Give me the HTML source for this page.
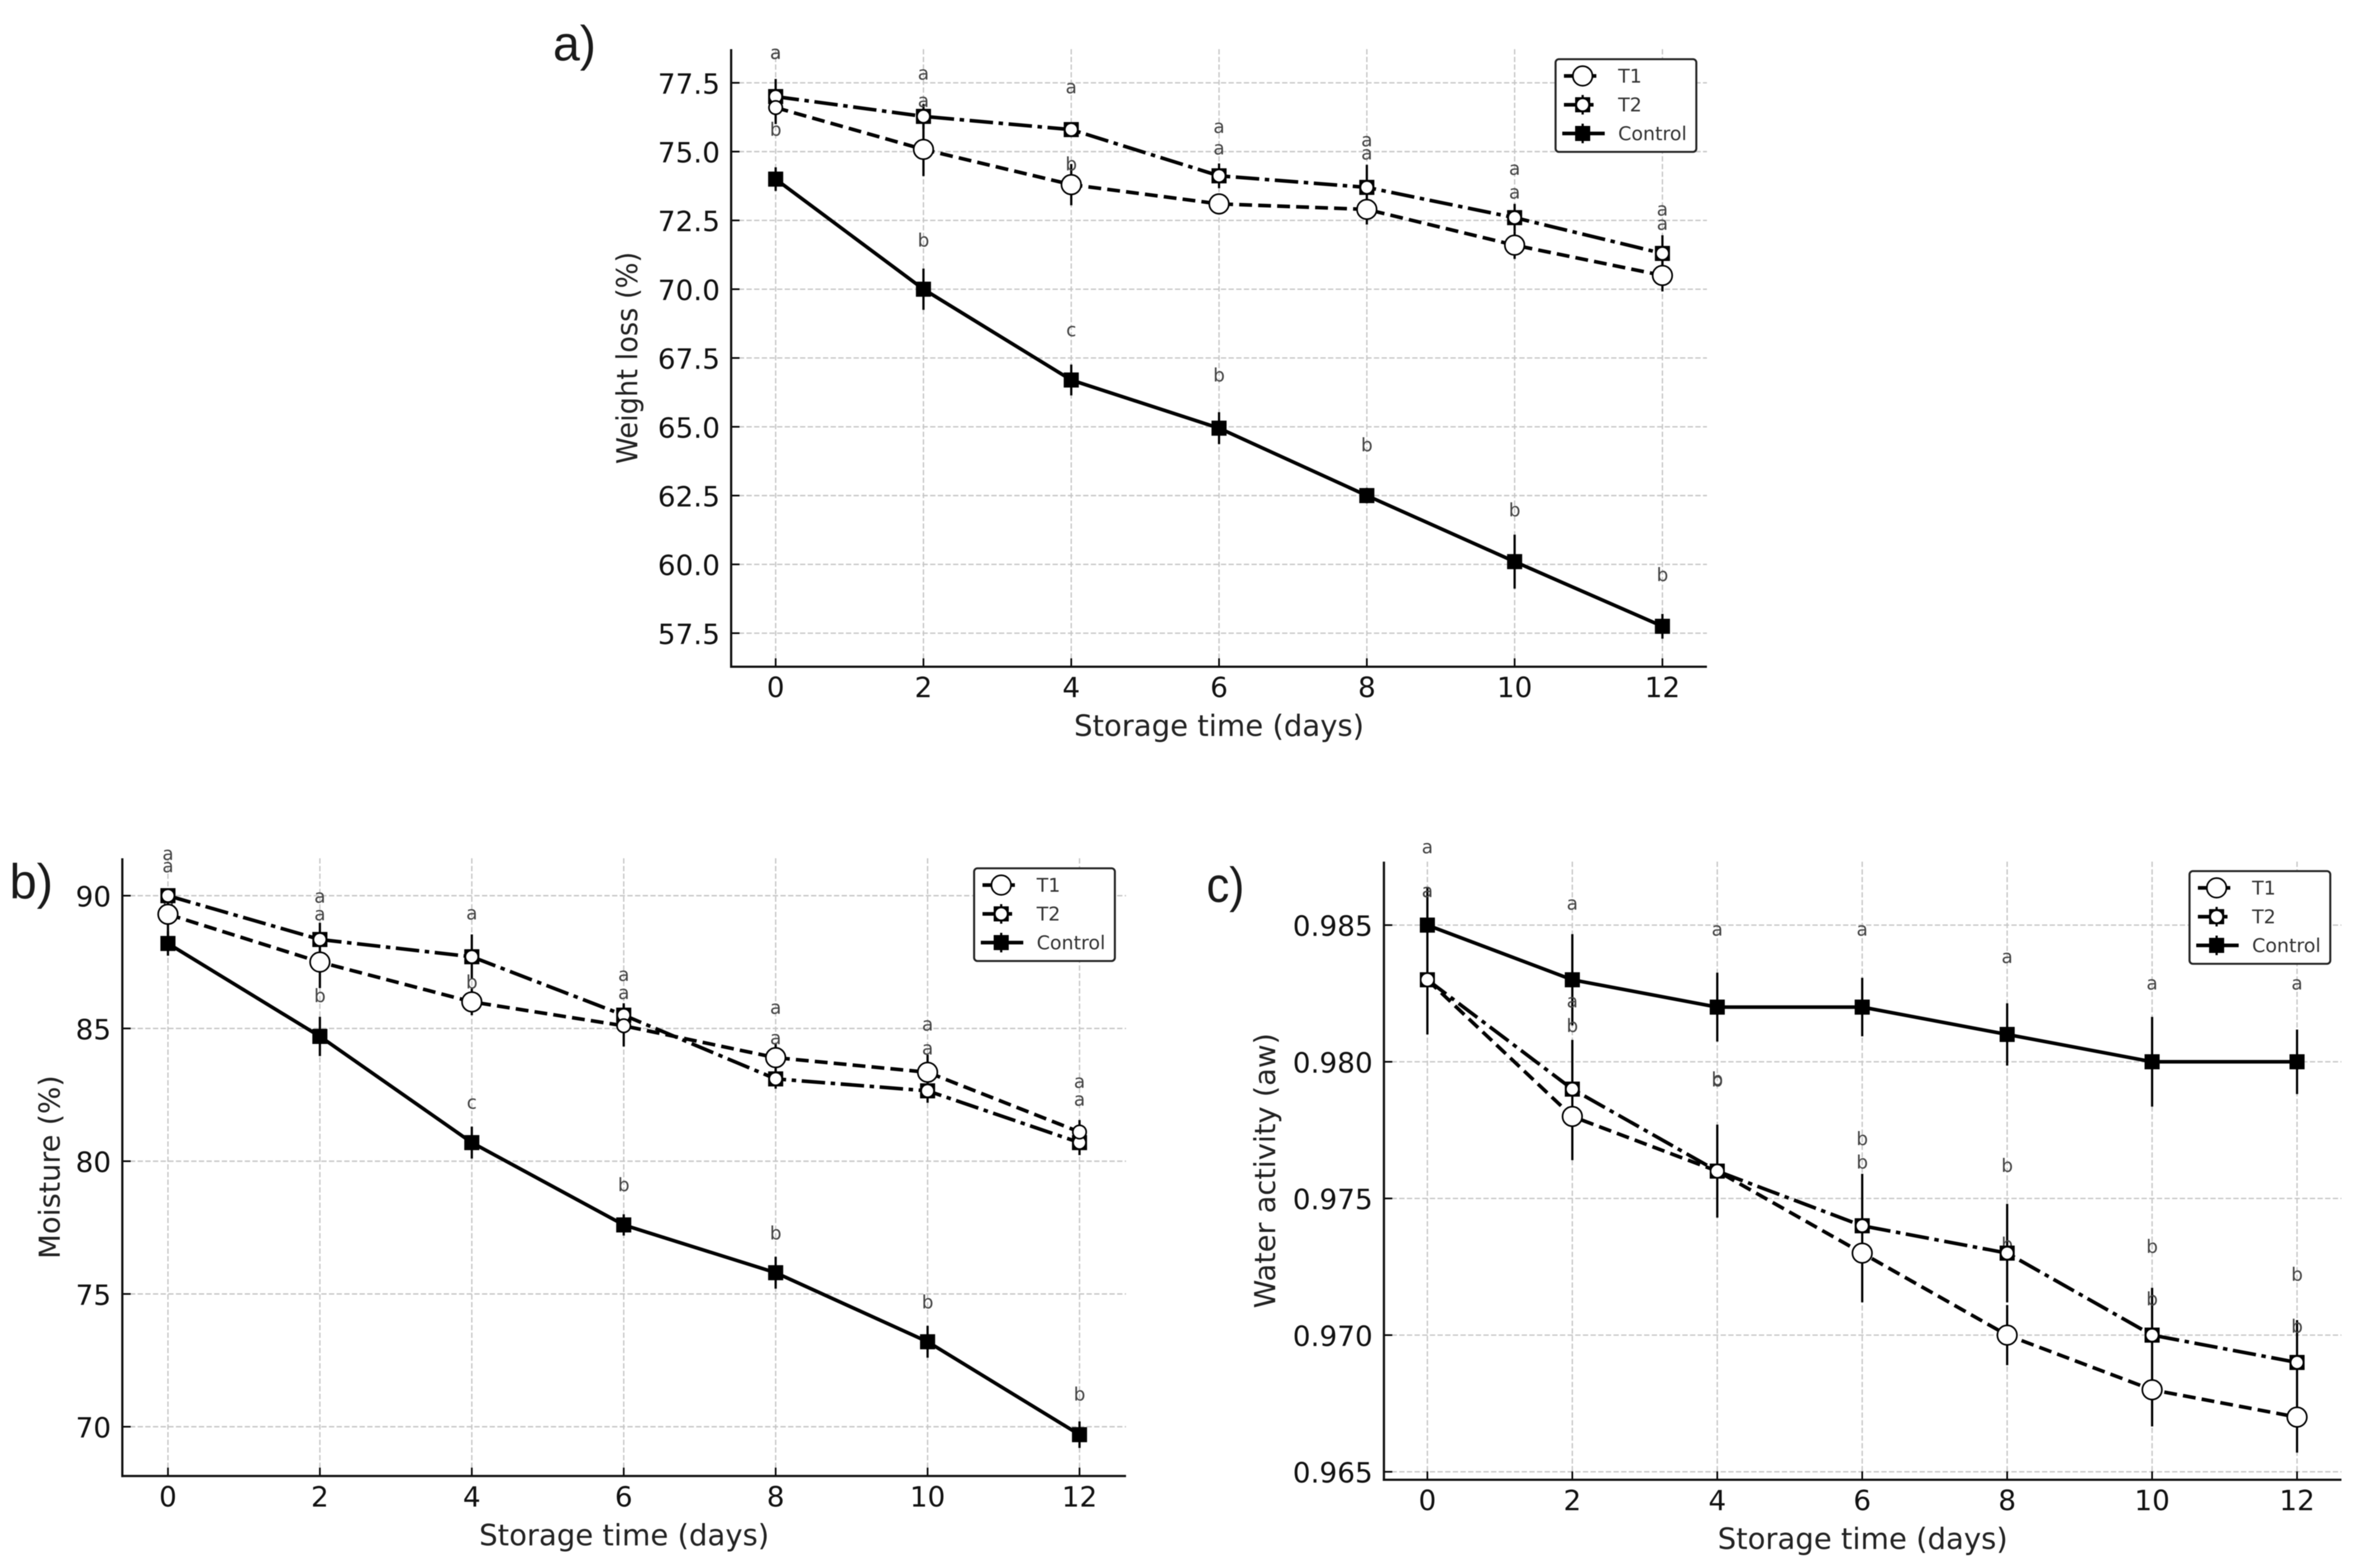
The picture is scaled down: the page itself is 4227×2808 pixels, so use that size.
<!DOCTYPE html>
<html lang="en">
<head>
<meta charset="utf-8">
<title>Weight loss, moisture and water activity during storage</title>
<style>
html,body{margin:0;padding:0;background:#fff;}
svg{display:block;font-family:"DejaVu Sans","Liberation Sans",sans-serif;filter:blur(0.7px);}
</style>
</head>
<body>
<svg id="figure" xmlns="http://www.w3.org/2000/svg" width="4227" height="2808" viewBox="0 0 4227 2808"></svg>
<script>
// Shared axis categories
const days = [0, 2, 4, 6, 8, 10, 12];
const xTickLabels = ['0', '2', '4', '6', '8', '10', '12'];

// Panel a: weight loss
const aTicks = [57.5, 60, 62.5, 65, 67.5, 70, 72.5, 75, 77.5];
const aTickLabels = ['57.5', '60.0', '62.5', '65.0', '67.5', '70.0', '72.5', '75.0', '77.5'];
const aT1 = [76.6, 75.08, 73.8, 73.1, 72.9, 71.6, 70.5];
const aT2 = [77.0, 76.28, 75.8, 74.12, 73.7, 72.6, 71.3];
const aControl = [74.0, 70.0, 66.7, 64.95, 62.5, 60.1, 57.75];
const aT1Err = [0.6, 0.97, 0.75, 0.25, 0.55, 0.5, 0.58];
const aT2Err = [0.64, 0.45, 0.25, 0.45, 0.82, 0.5, 0.66];
const aControlErr = [0.43, 0.75, 0.56, 0.58, 0.28, 0.98, 0.45];
const aT1Letters = ['a', 'a', 'b', 'a', 'a', 'a', 'a'];
const aT2Letters = ['a', 'a', 'a', 'a', 'a', 'a', 'a'];
const aControlLetters = ['b', 'b', 'c', 'b', 'b', 'b', 'b'];
const aT1Rise = [1.97, 1.75, 0.72, 2.0, 2.02, 1.9, 1.86];
const aT2Rise = [1.57, 1.54, 1.52, 1.76, 1.7, 1.76, 1.58];
const aControlRise = [1.78, 1.75, 1.8, 1.9, 1.82, 1.85, 1.85];

// Panel b: moisture
const bTicks = [70, 75, 80, 85, 90];
const bTickLabels = ['70', '75', '80', '85', '90'];
const bT1 = [89.3, 87.5, 86.0, 85.1, 83.9, 83.35, 81.1];
const bT2 = [90.0, 88.35, 87.7, 85.5, 83.1, 82.65, 80.7];
const bControl = [88.2, 84.7, 80.7, 77.6, 75.8, 73.2, 69.7];
const bT1Err = [0.9, 0.98, 0.5, 0.78, 0.55, 0.66, 0.45];
const bT2Err = [0.15, 0.63, 0.84, 0.45, 0.37, 0.45, 0.47];
const bControlErr = [0.46, 0.74, 0.6, 0.4, 0.6, 0.6, 0.5];
const bT1Letters = ['a', 'a', 'b', 'a', 'a', 'a', 'a'];
const bT2Letters = ['a', 'a', 'a', 'a', 'a', 'a', 'a'];
const bControlLetters = ['b', 'b', 'c', 'b', 'b', 'b', 'b'];
const bT1Rise = [1.79, 1.78, 0.72, 1.22, 1.86, 1.78, 1.88];
const bT2Rise = [1.56, 1.6, 1.62, 1.5, 1.52, 1.58, 1.6];
const bControlRise = [1.5, 1.5, 1.49, 1.48, 1.47, 1.47, 1.5];

// Panel c: water activity
const cTicks = [0.965, 0.97, 0.975, 0.98, 0.985];
const cTickLabels = ['0.965', '0.970', '0.975', '0.980', '0.985'];
const cT1 = [0.983, 0.978, 0.976, 0.973, 0.970, 0.968, 0.967];
const cT2 = [0.983, 0.979, 0.976, 0.974, 0.973, 0.970, 0.969];
const cControl = [0.985, 0.983, 0.982, 0.982, 0.981, 0.980, 0.980];
const cT1Err = [0.002, 0.0016, 0.0017, 0.0018, 0.0011, 0.00134, 0.0013];
const cT2Err = [0.002, 0.0018, 0.0017, 0.0019, 0.0018, 0.00173, 0.00155];
const cControlErr = [0.0014, 0.00167, 0.00126, 0.00107, 0.00114, 0.00164, 0.00118];
const cT1Letters = ['a', 'b', 'b', 'b', 'b', 'b', 'b'];
const cT2Letters = ['a', 'a', 'b', 'b', 'b', 'b', 'b'];
const cControlLetters = ['a', 'a', 'a', 'a', 'a', 'a', 'a'];
const cT1Rise = [0.00323, 0.0033, 0.0033, 0.0033, 0.0033, 0.0033, 0.0033];
const cT2Rise = [0.00323, 0.0032, 0.00335, 0.00316, 0.00318, 0.00322, 0.0032];
const cControlRise = [0.00283, 0.00277, 0.00282, 0.00282, 0.00282, 0.00285, 0.00285];

const NS = 'http://www.w3.org/2000/svg';
const root = document.getElementById('figure');

function mk(tag, attrs, parent) {
  const el = document.createElementNS(NS, tag);
  for (const k in attrs) el.setAttribute(k, attrs[k]);
  parent.appendChild(el);
  return el;
}

const panels = [
  {
    id: 'a', title: 'a)', titleX: 990, titleY: 108, titleLen: 77,
    left: 1309, right: 3056, top: 88, bottom: 1194,
    x0: 1388.7, xPerDay: 132.3,
    refValue: 77.5, refY: 148.3, pxPerUnit: 49.28,
    ticks: aTicks, tickLabels: aTickLabels,
    yLabel: 'Weight  loss (%)', yLabelX: 1141, yLabelLen: 380,
    legendX: 2785, legendY: 106,
    smallT1: [0],
    t1: aT1, t2: aT2, control: aControl,
    t1Err: aT1Err, t2Err: aT2Err, controlErr: aControlErr,
    t1Letters: aT1Letters, t2Letters: aT2Letters, controlLetters: aControlLetters,
    t1Rise: aT1Rise, t2Rise: aT2Rise, controlRise: aControlRise
  },
  {
    id: 'b', title: 'b)', titleX: 17, titleY: 1609, titleLen: 78,
    left: 219, right: 2016, top: 1537, bottom: 2643.3,
    x0: 300.7, xPerDay: 136,
    refValue: 90, refY: 1604, pxPerUnit: 47.55,
    ticks: bTicks, tickLabels: bTickLabels,
    yLabel: 'Moisture (%)', yLabelX: 107, yLabelLen: 329,
    legendX: 1744, legendY: 1555,
    smallT1: [6, 3],
    t1: bT1, t2: bT2, control: bControl,
    t1Err: bT1Err, t2Err: bT2Err, controlErr: bControlErr,
    t1Letters: bT1Letters, t2Letters: bT2Letters, controlLetters: bControlLetters,
    t1Rise: bT1Rise, t2Rise: bT2Rise, controlRise: bControlRise
  },
  {
    id: 'c', title: 'c)', titleX: 2160, titleY: 1615, titleLen: 68,
    left: 2477.7, right: 4192, top: 1543, bottom: 2650,
    x0: 2555.5, xPerDay: 129.75,
    refValue: 0.985, refY: 1656.7, pxPerUnit: 48950,
    ticks: cTicks, tickLabels: cTickLabels,
    yLabel: 'Water activity (aw)', yLabelX: 2283, yLabelLen: 493,
    legendX: 3920, legendY: 1560,
    smallT1: [0, 2],
    t1: cT1, t2: cT2, control: cControl,
    t1Err: cT1Err, t2Err: cT2Err, controlErr: cControlErr,
    t1Letters: cT1Letters, t2Letters: cT2Letters, controlLetters: cControlLetters,
    t1Rise: cT1Rise, t2Rise: cT2Rise, controlRise: cControlRise
  }
];

function drawMarker(kind, cx, cy, parent, small) {
  if (kind === 't1') {
    const c = mk('circle', {cx: cx, cy: cy, r: small ? 12 : 17.5, fill: '#fff', stroke: '#000', 'stroke-width': 3}, parent);
    
    
  } else if (kind === 't2') {
    const s = mk('rect', {x: cx - 13.5, y: cy - 13.5, width: 27, height: 27, fill: '#000'}, parent);
    
    
    const c = mk('circle', {cx: cx, cy: cy, r: 10, fill: '#fff'}, parent);
    
    
  } else {
    const s = mk('rect', {x: cx - 13.5, y: cy - 13.5, width: 27, height: 27, fill: '#000'}, parent);
    
    
  }
}

function drawLegend(p, parent) {
  const g = mk('g', {}, parent);
  
  
  const box = mk('rect', {x: p.legendX, y: p.legendY, width: 252, height: 166, rx: 6, ry: 6, fill: '#fff', stroke: '#222', 'stroke-width': 3.6}, g);
  
  
  const rows = [
    {kind: 't1', label: 'T1', dy: 30, from: 15, to: 73, dash: 'none'},
    {kind: 't2', label: 'T2', dy: 81.6, from: 15, to: 73, dash: '42 3 8'},
    {kind: 'control', label: 'Control', dy: 133, from: 12, to: 88, dash: 'none'}
  ];
  rows.forEach(function (r) {
    const cy = p.legendY + r.dy;
    const cx = p.legendX + 48.5;
    const handle = mk('line', {x1: p.legendX + r.from, x2: p.legendX + r.to, y1: cy, y2: cy, stroke: '#000', 'stroke-width': 6.5, 'stroke-dasharray': r.dash}, g);
    
    
    const bar = mk('line', {x1: cx, x2: cx, y1: cy - 17.5, y2: cy + 17.5, stroke: '#000', 'stroke-width': 4}, g);
    
    
    drawMarker(r.kind, cx, cy, g, false);
    const t = mk('text', {x: p.legendX + 112, y: cy + 11.8, 'font-size': 34, fill: '#333'}, g);
    t.textContent = r.label;
    
    
  });
}

panels.forEach(function (p) {
  const xScale = function (d) { return p.x0 + d * p.xPerDay; };
  const yScale = function (v) { return p.refY + (p.refValue - v) * p.pxPerUnit; };

  const g = mk('g', {}, root);
  
  

  const title = mk('text', {x: p.titleX, y: p.titleY, 'font-size': 88, fill: '#1a1a1a', 'font-family': '"Liberation Sans", sans-serif', textLength: p.titleLen, lengthAdjust: 'spacingAndGlyphs'}, g);
  title.textContent = p.title;
  
  

  // Grid lines
  p.ticks.forEach(function (v) {
    const gl = mk('line', {x1: p.left, x2: p.right, y1: yScale(v), y2: yScale(v), stroke: '#c6c6c6', 'stroke-width': 2.4, 'stroke-dasharray': '9.5 4.2'}, g);
    
    
  });
  days.forEach(function (d) {
    const gl = mk('line', {x1: xScale(d), x2: xScale(d), y1: p.top, y2: p.bottom, stroke: '#c6c6c6', 'stroke-width': 2.4, 'stroke-dasharray': '9.5 4.2'}, g);
    
    
  });

  // Ticks and tick labels
  p.ticks.forEach(function (v, i) {
    const tk = mk('line', {x1: p.left, x2: p.left + 15, y1: yScale(v), y2: yScale(v), stroke: '#000', 'stroke-width': 3}, g);
    
    
    const t = mk('text', {x: p.left - 20, y: yScale(v) + 19.5, 'font-size': 50, fill: '#111', 'text-anchor': 'end'}, g);
    t.textContent = p.tickLabels[i];
    
    
  });
  days.forEach(function (d, i) {
    const tk = mk('line', {x1: xScale(d), x2: xScale(d), y1: p.bottom - 15, y2: p.bottom, stroke: '#000', 'stroke-width': 3}, g);
    
    
    const t = mk('text', {x: xScale(d), y: p.bottom + 54.5, 'font-size': 50, fill: '#111', 'text-anchor': 'middle'}, g);
    t.textContent = xTickLabels[i];
    
    
  });

  // Spines
  const sl = mk('line', {x1: p.left, x2: p.left, y1: p.top, y2: p.bottom + 2, stroke: '#111', 'stroke-width': 4}, g);
  
  
  const sb = mk('line', {x1: p.left - 2, x2: p.right, y1: p.bottom, y2: p.bottom, stroke: '#111', 'stroke-width': 4}, g);
  
  

  // Axis titles
  const xt = mk('text', {x: (p.left + p.right) / 2, y: p.bottom + 124, 'font-size': 52.2, fill: '#222', 'text-anchor': 'middle'}, g);
  xt.textContent = 'Storage time (days)';
  
  
  const yc = (p.top + p.bottom) / 2;
  const yt = mk('text', {x: p.yLabelX, y: yc, 'font-size': 52, fill: '#222', 'text-anchor': 'middle', transform: 'rotate(-90 ' + p.yLabelX + ' ' + yc + ')', textLength: p.yLabelLen, lengthAdjust: 'spacingAndGlyphs', 'xml:space': 'preserve'}, g);
  yt.textContent = p.yLabel;
  
  

  const seriesList = [
    {kind: 't2', values: p.t2, err: p.t2Err, letters: p.t2Letters, rise: p.t2Rise, dash: '42 10 8 10'},
    {kind: 't1', values: p.t1, err: p.t1Err, letters: p.t1Letters, rise: p.t1Rise, dash: '23 11'},
    {kind: 'control', values: p.control, err: p.controlErr, letters: p.controlLetters, rise: p.controlRise, dash: 'none'}
  ];

  // Error bars
  seriesList.forEach(function (s) {
    s.values.forEach(function (v, i) {
      const b = mk('line', {x1: xScale(days[i]), x2: xScale(days[i]), y1: yScale(v + s.err[i]), y2: yScale(v - s.err[i]), stroke: '#000', 'stroke-width': 4}, g);
      
      
    });
  });

  // Connecting lines
  seriesList.forEach(function (s) {
    const pts = s.values.map(function (v, i) { return xScale(days[i]) + ',' + yScale(v); }).join(' ');
    const l = mk('polyline', {points: pts, fill: 'none', stroke: '#000', 'stroke-width': 6.4, 'stroke-dasharray': s.dash, 'stroke-linejoin': 'round'}, g);
    
    
  });

  // Significance letters
  seriesList.forEach(function (s) {
    s.values.forEach(function (v, i) {
      const t = mk('text', {x: xScale(days[i]), y: yScale(v + s.rise[i]) + 10, 'font-size': 33, fill: '#444', 'text-anchor': 'middle'}, g);
      t.textContent = s.letters[i];
      
      
    });
  });

  // Markers
  seriesList.forEach(function (s) {
    s.values.forEach(function (v, i) {
      const small = s.kind === 't1' && p.smallT1.indexOf(i) !== -1;
      drawMarker(s.kind, xScale(days[i]), yScale(v), g, small);
    });
  });

  drawLegend(p, g);
});
</script>
</body>
</html>
